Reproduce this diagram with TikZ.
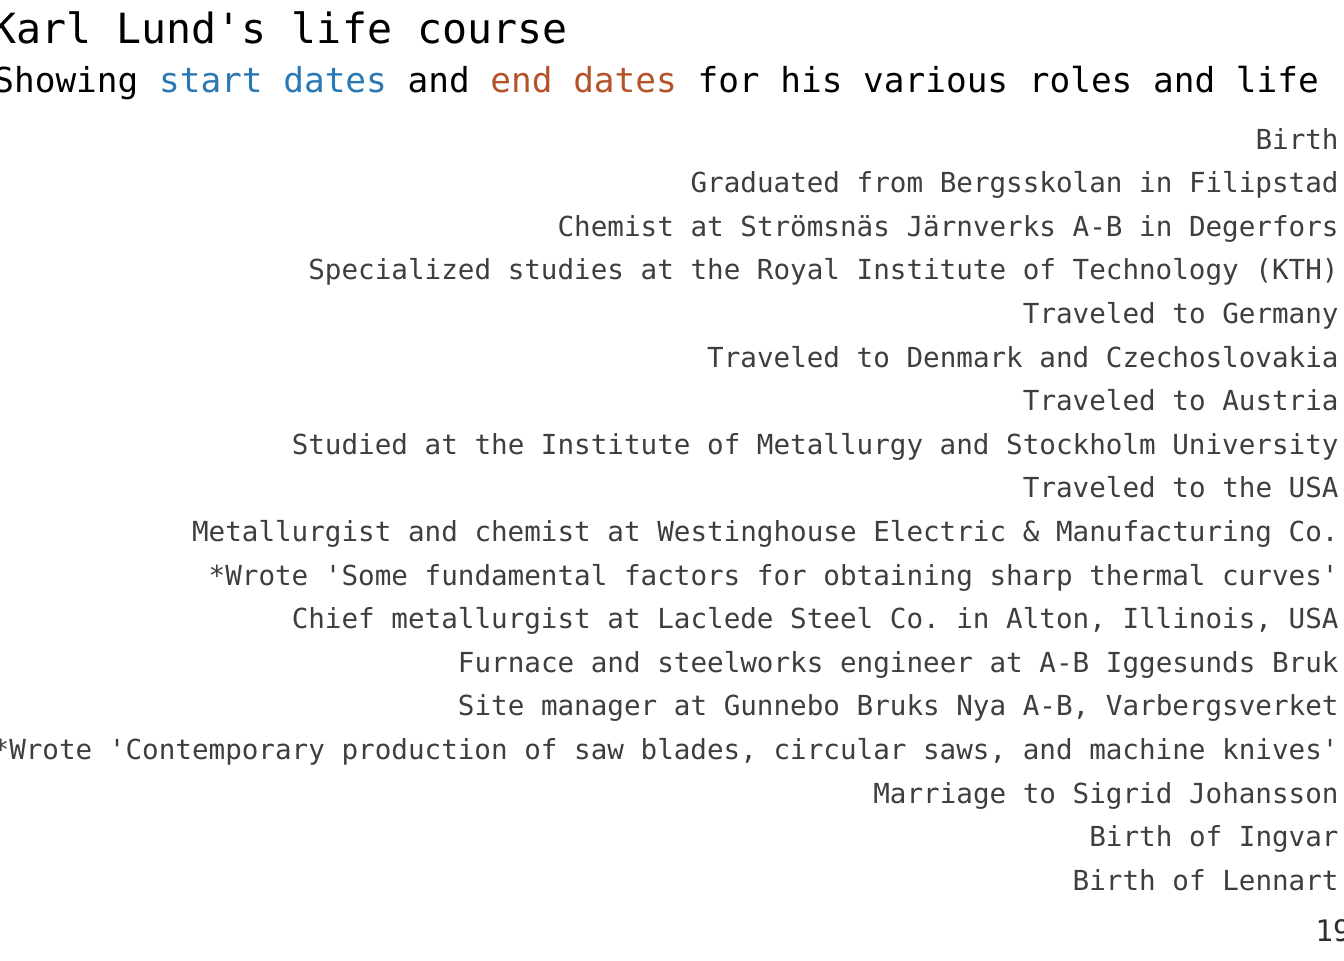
\documentclass[tikz,border=0pt]{standalone}
\usepackage{fontspec}
\setmonofont{DejaVu Sans Mono}
\usetikzlibrary{positioning}
\definecolor{startblue}{HTML}{2A78B4}
\definecolor{endrust}{HTML}{B4532A}
\definecolor{labelgray}{HTML}{3E3E3E}
\definecolor{tickgray}{HTML}{2E2E2E}

\begin{document}
\begin{tikzpicture}[
  x=0.5pt,y=-0.5pt,
  font=\ttfamily,
  title/.style={anchor=base west,inner sep=0pt,font=\ttfamily\fontsize{20.8}{24}\selectfont},
  subtitle/.style={anchor=base west,inner sep=0pt,font=\ttfamily\fontsize{17.2}{20}\selectfont},
  event/.style={anchor=base east,inner sep=0pt,text=labelgray,
    font=\ttfamily\fontsize{13.8}{16}\selectfont},
  tick/.style={anchor=base west,inner sep=0pt,text=tickgray,
    font=\ttfamily\fontsize{14.8}{17}\selectfont}
]
\useasboundingbox (0,0) rectangle (1344,960);
\clip (0,0) rectangle (1344,960);

\node[title] (head) at (-9,43) {Karl Lund's life course};
\node[subtitle] (subhead) at (-7,92)
  {Showing \textcolor{startblue}{start dates} and \textcolor{endrust}{end dates} for his various roles and life};

% one row per event, right-aligned against the axis
\node[event] (birth) at (1339,149.0) {Birth};
\node[event] (grad) at (1339,192.6) {Graduated from Bergsskolan in Filipstad};
\node[event] (chemist) at (1339,236.2) {Chemist at Strömsnäs Järnverks A-B in Degerfors};
\node[event] (kth) at (1339,279.8) {Specialized studies at the Royal Institute of Technology (KTH)};
\node[event] (germany) at (1339,323.4) {Traveled to Germany};
\node[event] (denmark) at (1339,367.0) {Traveled to Denmark and Czechoslovakia};
\node[event] (austria) at (1339,410.6) {Traveled to Austria};
\node[event] (metinst) at (1339,454.2) {Studied at the Institute of Metallurgy and Stockholm University};
\node[event] (usa) at (1339,497.8) {Traveled to the USA};
\node[event] (westing) at (1339,541.4) {Metallurgist and chemist at Westinghouse Electric \& Manufacturing Co.};
\node[event] (wrotefirst) at (1339,585.0) {*Wrote 'Some fundamental factors for obtaining sharp thermal curves'};
\node[event] (laclede) at (1339,628.6) {Chief metallurgist at Laclede Steel Co. in Alton, Illinois, USA};
\node[event] (iggesund) at (1339,672.2) {Furnace and steelworks engineer at A-B Iggesunds Bruk};
\node[event] (gunnebo) at (1339,715.8) {Site manager at Gunnebo Bruks Nya A-B, Varbergsverket};
\node[event] (wrotesecond) at (1339,759.4) {*Wrote 'Contemporary production of saw blades, circular saws, and machine knives'};
\node[event] (marriage) at (1339,803.0) {Marriage to Sigrid Johansson};
\node[event] (ingvar) at (1339,846.6) {Birth of Ingvar};
\node[event] (lennart) at (1339,890.2) {Birth of Lennart};

\node[tick] (year) at (1315,941) {19};
\end{tikzpicture}
\end{document}
